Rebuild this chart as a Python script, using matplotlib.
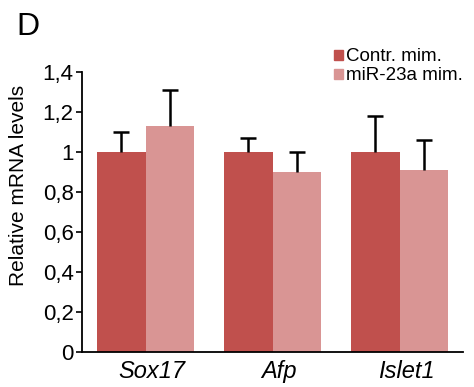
import matplotlib.pyplot as plt
import numpy as np
from matplotlib.patches import Patch

genes = ["Sox17", "Afp", "Islet1"]
contr = [1.0, 1.0, 1.0]
contr_err = [0.10, 0.07, 0.18]
mir = [1.13, 0.90, 0.91]
mir_err = [0.18, 0.10, 0.15]
series_names = ["Contr. mim.", "miR-23a mim."]
ytick_vals = [0, 0.2, 0.4, 0.6, 0.8, 1.0, 1.2, 1.4]
ytick_labels = ["0", "0,2", "0,4", "0,6", "0,8", "1", "1,2", "1,4"]

dark = "#C0504D"
light = "#D99594"

plt.rcParams["font.family"] = ["Liberation Sans", "DejaVu Sans"]

fig = plt.figure(figsize=(4.74, 3.87), dpi=100)
ax = fig.add_axes([0.173, 0.0904, 0.804, 0.724])

x = np.arange(len(genes))
w = 0.38
for pos, vals, errs, col in [(x - w / 2, contr, contr_err, dark),
                             (x + w / 2, mir, mir_err, light)]:
    ax.bar(pos, vals, w, color=col, zorder=1)
    # upper error only, cap on top
    ax.errorbar(pos, vals, yerr=[np.zeros(len(vals)), errs], fmt="none",
                ecolor="black", elinewidth=1.8, capsize=0, zorder=2)
    ax.plot(pos, np.array(vals) + np.array(errs), ls="none", marker="_",
            markersize=11, markeredgewidth=1.8, color="black", zorder=2)

ax.set_xlim(-0.5, 2.5)
ax.set_ylim(0, 1.4)
ax.set_yticks(ytick_vals)
ax.set_yticklabels(ytick_labels, fontsize=16)
ax.set_xticks(x + 0.05)
ax.set_xticklabels(genes, fontsize=17, style="italic")
ax.tick_params(axis="x", length=0, pad=6)
ax.tick_params(axis="y", length=4, width=1.2, pad=2)

for s in ["top", "right"]:
    ax.spines[s].set_visible(False)
for s in ["left", "bottom"]:
    ax.spines[s].set_linewidth(1.3)

fig.text(0.038, 0.522, "Relative mRNA levels", rotation=90, ha="center",
         va="center", fontsize=15)
fig.text(0.035, 0.968, "D", fontsize=23, va="top", ha="left")

handles = [Patch(color=dark), Patch(color=light)]
ax.legend(handles, series_names, loc="upper left", bbox_to_anchor=(0.705, 0.875),
          bbox_transform=fig.transFigure, frameon=False, fontsize=13.5,
          handlelength=0.45, handleheight=0.45, handletextpad=0.2,
          labelspacing=0.1, borderaxespad=0, borderpad=0)

plt.savefig("out.png", dpi=100)
